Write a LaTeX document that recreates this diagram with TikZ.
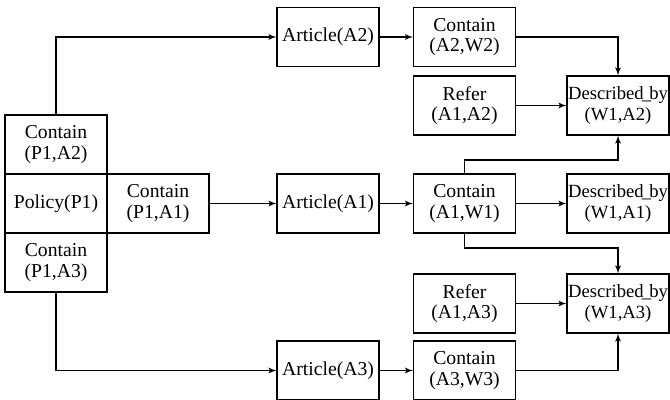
\documentclass[tikz,border=0pt]{standalone}
\usepackage{fontspec}
\setmainfont{Liberation Serif}
\usetikzlibrary{shapes,arrows,positioning}
\newcommand{\descby}{Described\kern-0.1em\_\kern-0.1em by}
\tikzstyle{box} = [rectangle, draw, align = center, inner sep = 0pt, minimum width = 2.04cm, minimum height = 1.18cm, font = \fontsize{11.2}{11.5}\selectfont]
\tikzstyle{descbox} = [box, font = \fontsize{10.6}{11.5}\selectfont]
\tikzstyle{line2} = [draw, -latex']
\begin{document}
\begin{tikzpicture}[line width = 0.6pt]
			\useasboundingbox (0, 0) rectangle (13.4, -8);
			% Place nodes
			\node [box] (cpa2) at (1.12, -2.89) {Contain\\(P1,A2)};
			\node [box] (policy) at (1.12, -4.07) {Policy(P1)};
			\node [box] (cpa3) at (1.12, -5.25) {Contain\\(P1,A3)};
			\node [box] (cpa1) at (3.16, -4.07) {Contain\\(P1,A1)};
			\node [box] (art2) at (6.56, -0.74) {Article(A2)};
			\node [box] (art1) at (6.56, -4.07) {Article(A1)};
			\node [box] (art3) at (6.56, -7.41) {Article(A3)};
			\node [box] (cw2) at (9.29, -0.74) {Contain\\(A2,W2)};
			\node [box] (ref2) at (9.29, -2.11) {Refer\\(A1,A2)};
			\node [box] (cw1) at (9.29, -4.07) {Contain\\(A1,W1)};
			\node [box] (ref3) at (9.29, -6.07) {Refer\\(A1,A3)};
			\node [box] (cw3) at (9.29, -7.41) {Contain\\(A3,W3)};
			\node [descbox] (desc2) at (12.36, -2.11) {\descby\\(W1,A2)};
			\node [descbox] (desc1) at (12.36, -4.07) {\descby\\(W1,A1)};
			\node [descbox] (desc3) at (12.36, -6.07) {\descby\\(W1,A3)};
			\coordinate (up) at (9.29, -3.2);
			\coordinate (down) at (9.29, -4.96);
			% Draw edges
			\path [line2] (cpa2.north) |- (art2.west);
			\path [line2] (cpa1.east) -- (art1.west);
			\path [line2] (cpa3.south) |- (art3.west);
			\path [line2] (art2) -- (cw2);
			\path [line2] (art1) -- (cw1);
			\path [line2] (art3) -- (cw3);
			\path [line2] (cw2.east) -| (desc2.north);
			\path [line2] (ref2) -- (desc2);
			\path [line2] (cw1.north) -- (up) -| (desc2.south);
			\path [line2] (cw1) -- (desc1);
			\path [line2] (cw1.south) -- (down) -| (desc3.north);
			\path [line2] (ref3) -- (desc3);
			\path [line2] (cw3.east) -| (desc3.south);
		\end{tikzpicture}
\end{document}
